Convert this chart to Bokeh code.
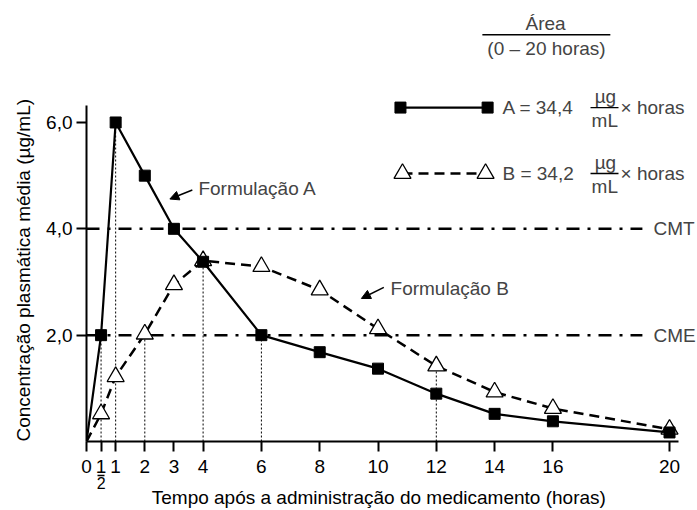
from bokeh.plotting import figure
from bokeh.models import (Range1d, FixedTicker, Label, Arrow, NormalHead,
                          LinearAxis, Title)
from bokeh.embed import file_html
from bokeh.resources import INLINE

# ---- data ----
t_hours = [0, 0.5, 1, 2, 3, 4, 6, 8, 10, 12, 14, 16, 20]
conc_A = [0, 2.0, 6.0, 5.0, 4.0, 3.38, 2.0, 1.68, 1.37, 0.90, 0.52, 0.38, 0.17]
conc_B = [0, 0.52, 1.22, 2.02, 2.95, 3.40, 3.29, 2.85, 2.12, 1.42, 0.93, 0.62, 0.23]
x_ticks = [0, 0.5, 1, 2, 3, 4, 6, 8, 10, 12, 14, 16, 20]
y_ticks = [2, 4, 6]
y_tick_labels = ["2,0", "4,0", "6,0"]
cmt_level = 4.0
cme_level = 2.0
guide_A = [1, 2, 6]      # t = 1/2, 1, 6 up to curve A
guide_B = [3, 5, 9]      # t = 2, 4, 10 up to curve B
area_A = "34,4"
area_B = "34,2"
x_title = "Tempo após a administração do medicamento (horas)"
y_title = "Concentração plasmática média (µg/mL)"

FONT = "Liberation Sans"
FS = "19px"

p = figure(width=697, height=510, output_backend="svg", toolbar_location=None,
           x_range=Range1d(0, 20.96), y_range=Range1d(0, 8.294),
           min_border_left=86, min_border_right=0, min_border_top=0,
           min_border_bottom=69)
p.grid.visible = False
p.outline_line_color = None
p.background_fill_color = "white"

for ax in (p.xaxis, p.yaxis):
    ax.axis_line_width = 2
    ax.major_tick_line_width = 2
    ax.major_tick_out = 10
    ax.major_tick_in = 0
    ax.minor_tick_line_color = None
    ax.major_label_text_font = FONT
    ax.major_label_text_font_size = FS
    ax.major_label_text_color = "black"
    ax.axis_line_color = "black"
    ax.major_tick_line_color = "black"

p.xaxis.ticker = FixedTicker(ticks=x_ticks)
p.xaxis.major_label_overrides = {0.5: "1"}
p.xaxis.bounds = (0, 20.3)
p.xaxis.major_label_standoff = 8
p.yaxis.ticker = FixedTicker(ticks=y_ticks)
p.yaxis.major_label_overrides = {v: s for v, s in zip(y_ticks, y_tick_labels)}
p.yaxis.bounds = (0, 6.32)
p.yaxis.major_label_standoff = 4

# denominator of the "1/2" tick + x-axis title
frac_axis = LinearAxis(ticker=FixedTicker(ticks=[0.5]),
                       major_label_overrides={0.5: "2"},
                       bounds=(0.37, 0.63), axis_line_width=1.5,
                       axis_line_color="black",
                       major_tick_out=0, major_tick_in=0,
                       minor_tick_line_color=None,
                       major_label_standoff=1,
                       major_label_text_font=FONT,
                       major_label_text_font_size="16px",
                       major_label_text_color="black",
                       axis_label=x_title + "\u00a0" * 5,
                       axis_label_standoff=-5,
                       axis_label_text_font=FONT,
                       axis_label_text_font_size=FS,
                       axis_label_text_font_style="normal",
                       axis_label_text_color="black")
p.add_layout(frac_axis, "below")

p.add_layout(Title(text=y_title, align="left", standoff=19,
                   text_font=FONT, text_font_size=FS,
                   text_font_style="normal", text_color="black"), "left")

# reference lines CMT / CME
for lvl, name in ((cmt_level, "CMT"), (cme_level, "CME")):
    p.line([0, 19.07], [lvl, lvl], line_color="black", line_width=2.5,
           line_dash="13 8 3 8")
    p.add_layout(Label(x=19.45, y=lvl, text=name, text_font=FONT,
                       text_font_size=FS, text_baseline="middle",
                       text_align="left"))

# dotted guide lines
p.segment(x0=[t_hours[i] for i in guide_A], y0=[0]*len(guide_A),
          x1=[t_hours[i] for i in guide_A], y1=[conc_A[i] for i in guide_A],
          line_color="black", line_width=1, line_dash="2 2")
p.segment(x0=[t_hours[i] for i in guide_B], y0=[0]*len(guide_B),
          x1=[t_hours[i] for i in guide_B], y1=[conc_B[i] for i in guide_B],
          line_color="black", line_width=1, line_dash="2 2")

# series B
p.line(t_hours, conc_B, line_color="black", line_width=2.5, line_dash="10 6")
p.scatter(t_hours[1:], conc_B[1:], marker="triangle", size=17,
          fill_color="white", line_color="black", line_width=1.3)
# series A
p.line(t_hours, conc_A, line_color="black", line_width=2.2)
p.scatter(t_hours[1:], conc_A[1:], marker="square", size=11,
          fill_color="black", line_color="black")

# annotations with arrows
p.add_layout(Arrow(x_start=3.63, y_start=4.73, x_end=2.86, y_end=4.56,
                   line_width=1.5, end=NormalHead(size=9, fill_color="black",
                                                  line_color="black")))
p.add_layout(Label(x=3.84, y=4.76, text="Formulação A", text_font=FONT,
                   text_font_size=FS, text_baseline="middle"))
p.add_layout(Arrow(x_start=10.2, y_start=2.90, x_end=9.43, y_end=2.69,
                   line_width=1.5, end=NormalHead(size=9, fill_color="black",
                                                  line_color="black")))
p.add_layout(Label(x=10.43, y=2.88, text="Formulação B", text_font=FONT,
                   text_font_size=FS, text_baseline="middle"))

# legend header
p.add_layout(Label(x=15.75, y=7.86, text="Área", text_font=FONT,
                   text_font_size=FS, text_align="center", text_baseline="middle"))
p.line([13.58, 17.97], [7.65, 7.65], line_color="black", line_width=1.3)
p.add_layout(Label(x=15.78, y=7.39, text="(0 – 20 horas)", text_font=FONT,
                   text_font_size=FS, text_align="center", text_baseline="middle"))

# legend rows
rowA, rowB = 6.28, 5.04
p.line([10.77, 13.76], [rowA, rowA], line_color="black", line_width=2.2)
p.scatter([10.77, 13.76], [rowA, rowA], marker="square", size=11,
          fill_color="black", line_color="black")
p.line([10.84, 13.69], [rowB, rowB], line_color="black", line_width=2.5,
       line_dash="10 6")
p.scatter([10.84, 13.69], [rowB, rowB], marker="triangle", size=17,
          fill_color="white", line_color="black", line_width=1.3)
for row, lab, val in ((rowA, "A", area_A), (rowB, "B", area_B)):
    p.add_layout(Label(x=14.27, y=row, text=f"{lab} = {val}", text_font=FONT,
                       text_font_size=FS, text_baseline="middle"))
    p.add_layout(Label(x=17.8, y=row + 0.2, text="µg", text_font=FONT,
                       text_font_size=FS, text_align="center",
                       text_baseline="middle"))
    p.line([17.29, 18.25], [row, row], line_color="black", line_width=1.3)
    p.add_layout(Label(x=17.78, y=row - 0.25, text="mL", text_font=FONT,
                       text_font_size=FS, text_align="center",
                       text_baseline="middle"))
    p.add_layout(Label(x=18.32, y=row, text="× horas", text_font=FONT,
                       text_font_size=FS, text_baseline="middle"))

open("out.html", "w").write(file_html(p, INLINE))
